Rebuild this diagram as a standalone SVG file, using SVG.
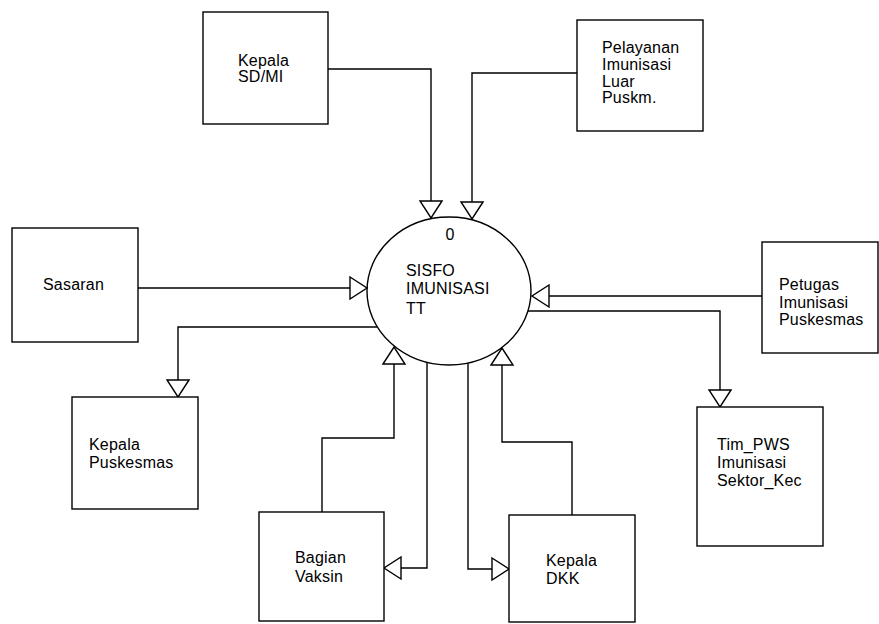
<svg xmlns="http://www.w3.org/2000/svg" width="879" height="624" viewBox="0 0 879 624">
<defs>
<style>
.box{fill:#fff;stroke:#000;stroke-width:1.4}
.t{font-family:"Liberation Sans",Arial,sans-serif;font-size:16px;letter-spacing:0.2px;fill:#000}
.c{fill:none;stroke:#000;stroke-width:1.4}
</style>
<marker id="ah" markerUnits="userSpaceOnUse" markerWidth="22" markerHeight="26" viewBox="-2 -2 22 26" refX="17" refY="11" orient="auto">
<path d="M0,0 L17,11 L0,22 Z" fill="#fff" stroke="#000" stroke-width="1.4"/>
</marker>
</defs>
<rect width="879" height="624" fill="#fff"/>
<g id="connectors">
<path class="c" d="M328,69 H431 V218" marker-end="url(#ah)"/>
<path class="c" d="M577,73 H472 V219" marker-end="url(#ah)"/>
<path class="c" d="M138,288 H367" marker-end="url(#ah)"/>
<path class="c" d="M377,327 H178 V397" marker-end="url(#ah)"/>
<path class="c" d="M762,296 H532" marker-end="url(#ah)"/>
<path class="c" d="M528,311 H720 V407" marker-end="url(#ah)"/>
<path class="c" d="M322,512 V438 H394 V347" marker-end="url(#ah)"/>
<path class="c" d="M427,362 V568 H384" marker-end="url(#ah)"/>
<path class="c" d="M468,363 V569 H509" marker-end="url(#ah)"/>
<path class="c" d="M572,515 V442 H502 V348" marker-end="url(#ah)"/>
</g>
<g id="process0">
<ellipse cx="449" cy="291" rx="82" ry="74" fill="none" stroke="#000" stroke-width="1.4"/>
<text class="t" x="450" y="240" text-anchor="middle">0</text>
<text class="t" x="406" y="276">SISFO</text>
<text class="t" x="406" y="294">IMUNISASI</text>
<text class="t" x="406" y="314">TT</text>
</g>
<g id="kepala-sdmi">
<rect class="box" x="203" y="12" width="125" height="112"/>
<text class="t" x="238" y="66">Kepala</text>
<text class="t" x="238" y="82">SD/MI</text>
</g>
<g id="pelayanan">
<rect class="box" x="577" y="20" width="126" height="111"/>
<text class="t" x="602" y="53">Pelayanan</text>
<text class="t" x="602" y="70">Imunisasi</text>
<text class="t" x="602" y="87">Luar</text>
<text class="t" x="602" y="103">Puskm.</text>
</g>
<g id="sasaran">
<rect class="box" x="12" y="228" width="126" height="114"/>
<text class="t" x="43" y="290">Sasaran</text>
</g>
<g id="kepala-puskesmas">
<rect class="box" x="72" y="397" width="126" height="112"/>
<text class="t" x="89" y="450">Kepala</text>
<text class="t" x="89" y="468">Puskesmas</text>
</g>
<g id="petugas">
<rect class="box" x="762" y="242" width="116" height="111"/>
<text class="t" x="779" y="290">Petugas</text>
<text class="t" x="779" y="308">Imunisasi</text>
<text class="t" x="779" y="325">Puskesmas</text>
</g>
<g id="tim-pws">
<rect class="box" x="697" y="407" width="126" height="139"/>
<text class="t" x="717" y="450">Tim_PWS</text>
<text class="t" x="717" y="468">Imunisasi</text>
<text class="t" x="717" y="486">Sektor_Kec</text>
</g>
<g id="bagian-vaksin">
<rect class="box" x="259" y="512" width="125" height="109"/>
<text class="t" x="295" y="563">Bagian</text>
<text class="t" x="295" y="582">Vaksin</text>
</g>
<g id="kepala-dkk">
<rect class="box" x="509" y="515" width="126" height="107"/>
<text class="t" x="546" y="566">Kepala</text>
<text class="t" x="546" y="584">DKK</text>
</g>
</svg>
